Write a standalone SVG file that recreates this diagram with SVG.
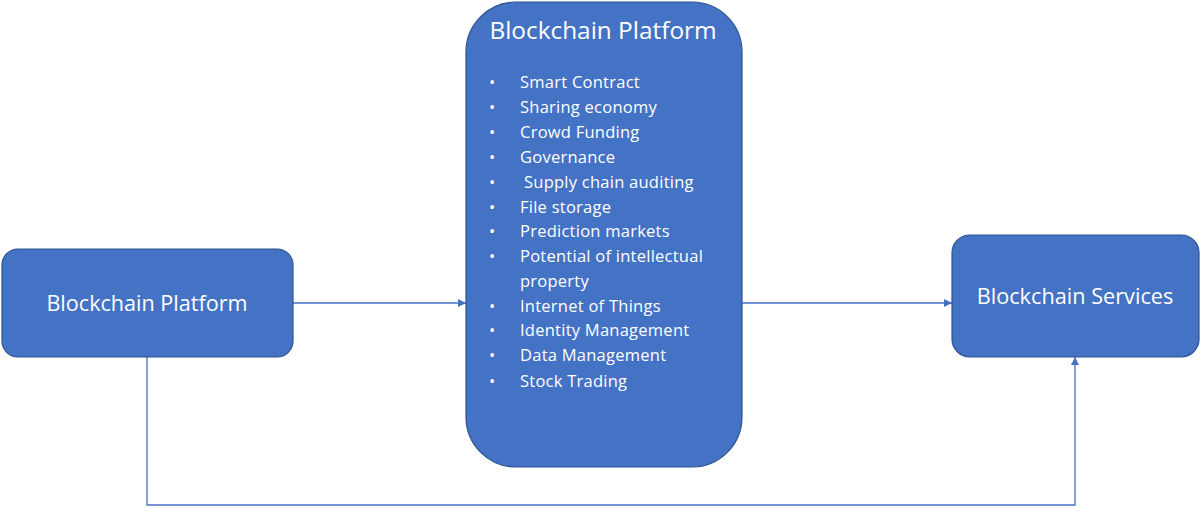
<svg xmlns="http://www.w3.org/2000/svg" width="1201" height="508" viewBox="0 0 1201 508">
  <style>
    .box { fill: #4472c4; stroke: #2f528f; stroke-width: 1.2; }
    .title { font-family: "Open Sans", "Liberation Sans", sans-serif; fill: #ffffff; }
    .item { font-family: "Open Sans", "Liberation Sans", sans-serif; font-size: 16.5px; letter-spacing: 0.25px; fill: #ffffff; }
    .link { fill: none; stroke: #4472c4; stroke-width: 1.3; }
  </style>
  <defs>
    <marker id="arrow" viewBox="0 0 10 10" refX="10" refY="5" markerWidth="8" markerHeight="8" markerUnits="userSpaceOnUse" orient="auto">
      <path d="M0,0 L10,5 L0,10 z" fill="#4472c4"/>
    </marker>
  </defs>
  <rect width="1201" height="508" fill="#ffffff"/>

  <g id="connectors">
    <line class="link" x1="293" y1="303" x2="466" y2="303" marker-end="url(#arrow)"/>
    <line class="link" x1="742" y1="303" x2="952" y2="303" marker-end="url(#arrow)"/>
    <polyline class="link" points="147,357 147,505 1075,505 1075,357" marker-end="url(#arrow)"/>
  </g>

  <g id="source-platform">
    <rect class="box" x="2" y="249" width="291" height="108" rx="16" ry="16"/>
    <text class="title" x="147" y="311" font-size="21.6" text-anchor="middle">Blockchain Platform</text>
  </g>

  <g id="platform-uses">
    <rect class="box" x="466" y="2" width="276" height="465" rx="50" ry="50"/>
    <text class="title" x="603" y="39" font-size="24.4" text-anchor="middle">Blockchain Platform</text>
    <g class="item">
      <text x="489" y="88">•</text><text x="520" y="88">Smart Contract</text>
      <text x="489" y="113">•</text><text x="520" y="113">Sharing economy</text>
      <text x="489" y="138">•</text><text x="520" y="138">Crowd Funding</text>
      <text x="489" y="163">•</text><text x="520" y="163">Governance</text>
      <text x="489" y="188">•</text><text x="524" y="188">Supply chain auditing</text>
      <text x="489" y="213">•</text><text x="520" y="213">File storage</text>
      <text x="489" y="237">•</text><text x="520" y="237">Prediction markets</text>
      <text x="489" y="262">•</text><text x="520" y="262">Potential of intellectual</text>
      <text x="520" y="287">property</text>
      <text x="489" y="312">•</text><text x="520" y="312">Internet of Things</text>
      <text x="489" y="336">•</text><text x="520" y="336">Identity Management</text>
      <text x="489" y="361">•</text><text x="520" y="361">Data Management</text>
      <text x="489" y="387">•</text><text x="520" y="387">Stock Trading</text>
    </g>
  </g>

  <g id="services">
    <rect class="box" x="952" y="235" width="247" height="122" rx="18" ry="18"/>
    <text class="title" x="1075" y="304" font-size="21.7" text-anchor="middle">Blockchain Services</text>
  </g>
</svg>
